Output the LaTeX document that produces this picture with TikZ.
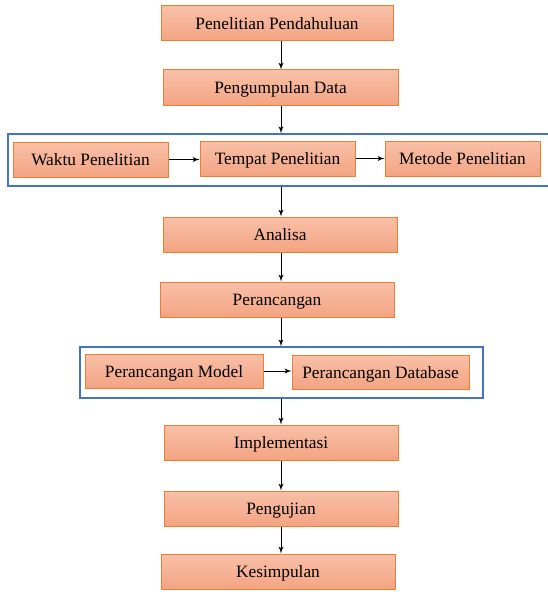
\documentclass[tikz,border=0pt]{standalone}
\usepackage{fontspec}
\setmainfont{Liberation Serif}
\usepackage{xcolor}
\usetikzlibrary{arrows}
\definecolor{boxtop}{RGB}{248,192,168}
\definecolor{boxbot}{RGB}{243,164,130}
\definecolor{boxline}{RGB}{237,125,49}
\definecolor{grpline}{RGB}{68,114,196}
\tikzset{
    stepnode/.style = {align=center, inner sep=0pt, text centered, font=\fontsize{13}{15}\selectfont, text height=9pt, text depth=0pt},
    obox/.style = {stepnode, rectangle, draw=boxline, line width=0.75pt, top color=boxtop, bottom color=boxbot, minimum height=26.25pt},
    wbox/.style = {obox, minimum width=175.5pt},
    sbox/.style = {obox, minimum width=116.25pt},
    grp/.style = {rectangle, draw=grpline, line width=1pt, fill=white, inner sep=0pt},
    flow/.style = {->, >=latex', line width=0.75pt, black}
}
\begin{document}
\begin{tikzpicture}[x=0.75pt, y=-0.75pt]
    \useasboundingbox (0,0) rectangle (548,592);
    \coordinate (arrx) at (281,0);
    % main steps
    \node [obox, minimum width=174pt] (pp) at (277,23.5) {Penelitian Pendahuluan};
    \node [obox, minimum width=176.25pt] (pd) at (280.5,87.5) {Pengumpulan Data};
    % group 1
    \node [grp, minimum width=406.5pt, minimum height=39pt] (grpa) at (279,160) {};
    \node [sbox] (waktu) at (90.5,159.5) {Waktu Penelitian};
    \node [sbox] (tempat) at (277.5,158.5) {Tempat Penelitian};
    \node [sbox] (metode) at (462.5,158.5) {Metode Penelitian};
    \node [wbox] (analisa) at (280,234.5) {Analisa};
    \node [wbox] (ranc) at (277,299.5) {Perancangan};
    % group 2
    \node [grp, minimum width=302.25pt, minimum height=38.25pt] (grpb) at (281.5,372.5) {};
    \node [obox, minimum width=133.5pt, minimum height=25.5pt] (model) at (174,371) {Perancangan Model};
    \node [obox, minimum width=132.75pt, minimum height=25.5pt] (dbase) at (380.5,372) {Perancangan Database};
    \node [wbox] (impl) at (281,442.5) {Implementasi};
    \node [wbox] (uji) at (281,508.5) {Pengujian};
    \node [wbox] (kes) at (278,571.5) {Kesimpulan};
    % arrows
    \draw [flow] (pp.south -| arrx) -- (pd.north -| arrx);
    \draw [flow] (pd.south -| arrx) -- (grpa.north -| arrx);
    \draw [flow] (grpa.south -| arrx) -- (analisa.north -| arrx);
    \draw [flow] (analisa.south -| arrx) -- (ranc.north -| arrx);
    \draw [flow] (ranc.south -| arrx) -- (grpb.north -| arrx);
    \draw [flow] (grpb.south -| arrx) -- (impl.north -| arrx);
    \draw [flow] (impl.south -| arrx) -- (uji.north -| arrx);
    \draw [flow] (uji.south -| arrx) -- (kes.north -| arrx);
    \draw [flow] (waktu.east) -- (waktu.east -| tempat.west);
    \draw [flow] (tempat.east) -- (tempat.east -| metode.west);
    \draw [flow] (model.east) -- (model.east -| dbase.west);
\end{tikzpicture}
\end{document}
